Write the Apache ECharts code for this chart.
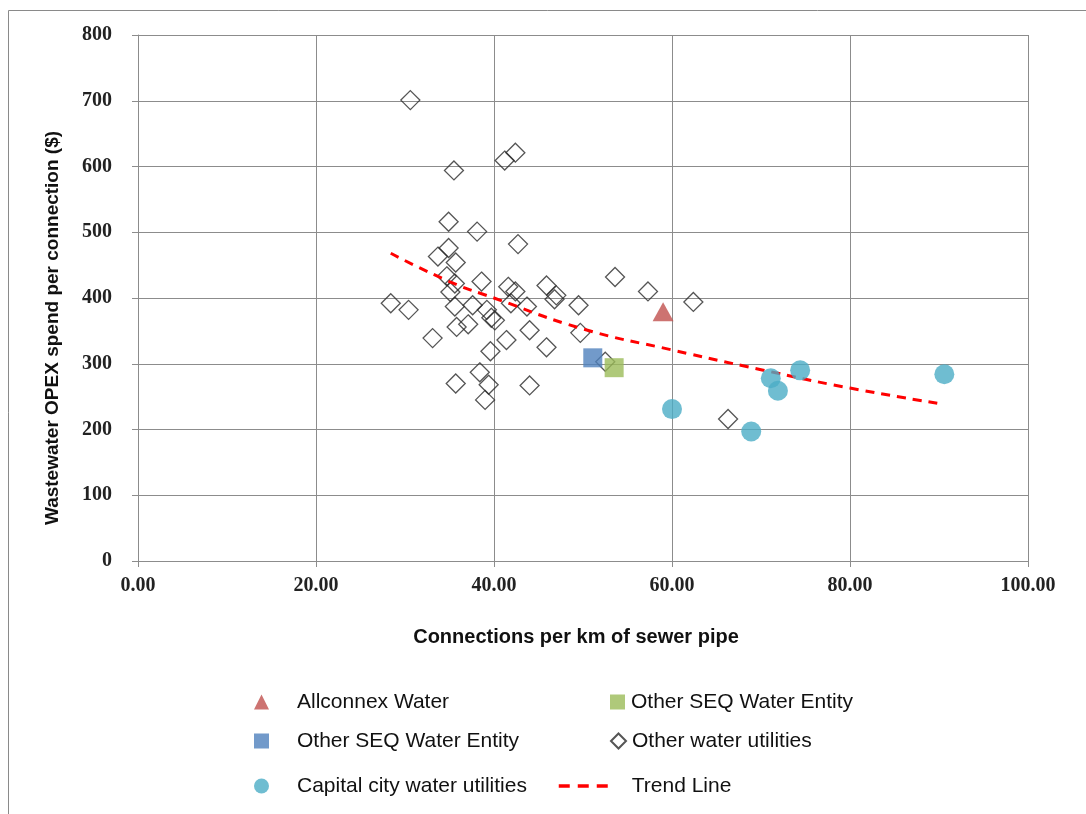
<!DOCTYPE html>
<html>
<head>
<meta charset="utf-8">
<script src="https://cdn.jsdelivr.net/npm/echarts@6/dist/echarts.min.js"></script>
<style>
  html, body { margin: 0; padding: 0; background: #fff; }
  #chart { width: 1086px; height: 814px; }
</style>
</head>
<body>
<div id="chart"></div>
<script>
// values: [connections per km, OPEX per connection]
const allconnex = [[59.0, 379]];
const seqGreen = [[53.5, 294]];
const seqBlue = [[51.1, 309]];
const capitalCities = [
  [60.0, 231], [68.9, 197], [71.1, 278], [71.9, 259], [74.4, 290], [90.6, 284]
];
const otherUtilities = [
  [30.6, 701], [35.5, 594], [41.2, 609], [42.4, 621], [34.9, 516], [38.1, 501],
  [42.7, 482], [34.9, 476], [33.7, 463], [35.7, 454], [34.7, 433], [35.6, 422],
  [35.1, 409], [28.4, 392], [30.4, 382], [33.1, 339], [35.6, 387], [35.8, 356],
  [37.1, 360], [37.6, 389], [38.6, 425], [39.2, 382], [39.7, 370], [40.1, 366],
  [39.6, 319], [41.4, 336], [41.6, 417], [42.4, 410], [41.9, 392], [43.7, 387],
  [44.0, 351], [45.9, 419], [47.0, 404], [46.8, 398], [45.9, 325], [49.5, 389],
  [49.7, 347], [52.5, 303], [53.6, 432], [57.3, 410], [62.4, 394], [66.3, 216],
  [38.4, 287], [39.4, 268], [39.0, 245], [35.7, 270], [44.0, 267]
];
// dashed trend line
const trendLine = [
  [28.4, 468], [35, 425], [40, 400], [50, 353], [60, 321], [70, 291], [80, 263], [90.3, 239]
];
const xTicks = [0, 20, 40, 60, 80, 100];
const yTicks = [0, 100, 200, 300, 400, 500, 600, 700, 800];

const names = {
  allconnex: "Allconnex Water",
  seq: "Other SEQ Water Entity",
  seqBlue: "Other SEQ Water Entity ",
  other: "Other water utilities",
  capital: "Capital city water utilities",
  trend: "Trend Line",
};

const chart = echarts.init(document.getElementById("chart"));
const gridColor = "#8c8c8c";
const tickFont = { fontFamily: "Liberation Serif", fontWeight: "bold", fontSize: 20, color: "#222" };
const legendText = { fontFamily: "Liberation Sans", fontSize: 21, lineHeight: 22, color: "#111" };

// one legend per entry so each row/column sits where the reference puts it
function legendAt(name, left, top, width, padLeft, extra) {
  return Object.assign({
    left: left,
    top: top,
    itemWidth: width,
    itemHeight: 15,
    textStyle: { ...legendText, padding: [0, 0, 0, padLeft] },
    data: [name],
  }, extra || {});
}

chart.setOption({
  animation: false,
  backgroundColor: "#fff",
  graphic: [
    {
      type: "rect",
      shape: { x: 8.5, y: 10.5, width: 1200, height: 900 },
      style: { fill: "none", stroke: "#8a8a8a", lineWidth: 1 },
      silent: true,
    },
  ],
  grid: { left: 138, right: 58, top: 35, bottom: 253 },
  xAxis: {
    type: "value",
    min: xTicks[0],
    max: xTicks[xTicks.length - 1],
    interval: 20,
    name: "Connections per km of sewer pipe",
    nameLocation: "middle",
    nameGap: 66,
    nameTextStyle: {
      fontFamily: "Liberation Sans", fontWeight: "bold", fontSize: 20, color: "#111",
      padding: [0, 14, 0, 0],
    },
    axisLine: { lineStyle: { color: gridColor } },
    axisTick: { show: true, length: 6, lineStyle: { color: gridColor } },
    axisLabel: { ...tickFont, margin: 15, formatter: (v) => v.toFixed(2) },
    splitLine: { lineStyle: { color: gridColor, width: 1 } },
  },
  yAxis: {
    type: "value",
    min: yTicks[0],
    max: yTicks[yTicks.length - 1],
    interval: 100,
    name: "Wastewater OPEX spend per connection ($)",
    nameLocation: "middle",
    nameGap: 76,
    nameTextStyle: {
      fontFamily: "Liberation Sans", fontWeight: "bold", fontSize: 19, color: "#111",
      padding: [0, 60, 0, 0],
    },
    axisLine: { show: true, lineStyle: { color: gridColor } },
    axisTick: { show: true, length: 6, lineStyle: { color: gridColor } },
    axisLabel: { ...tickFont, margin: 26 },
    splitLine: { lineStyle: { color: gridColor, width: 1 } },
  },
  legend: [
    legendAt(names.allconnex, 249, 686, 15, 23),
    legendAt(names.seqBlue, 249, 725, 15, 23),
    legendAt(names.capital, 249, 770, 15, 23),
    legendAt(names.seq, 605, 686, 15, 1),
    legendAt(names.other, 605, 725, 15, 1),
    legendAt(names.trend, 552, 770, 56, 12, {
      itemStyle: { opacity: 0 },
      lineStyle: { width: 3.5, type: [11, 8] },
    }),
  ],
  series: [
    {
      name: names.other,
      type: "scatter",
      symbol: "diamond",
      symbolSize: 19,
      itemStyle: { color: "rgba(255,255,255,0)", borderColor: "#2a2a2a", borderWidth: 1.3 },
      data: otherUtilities,
      z: 2,
    },
    {
      name: names.trend,
      type: "line",
      data: trendLine,
      smooth: true,
      showSymbol: false,
      symbol: "none",
      lineStyle: { color: "#ff0000", width: 3, type: [9, 7] },
      itemStyle: { color: "#ff0000" },
      z: 3,
    },
    {
      name: names.allconnex,
      type: "scatter",
      symbol: "triangle",
      symbolSize: [21, 19],
      itemStyle: { color: "#c0504d" },
      data: allconnex,
      z: 4,
    },
    {
      name: names.seqBlue,
      type: "scatter",
      symbol: "rect",
      symbolSize: 19,
      itemStyle: { color: "#4f81bd" },
      data: seqBlue,
      z: 4,
    },
    {
      name: names.seq,
      type: "scatter",
      symbol: "rect",
      symbolSize: 19,
      itemStyle: { color: "#9bbb59" },
      data: seqGreen,
      z: 4,
    },
    {
      name: names.capital,
      type: "scatter",
      symbol: "circle",
      symbolSize: 20,
      itemStyle: { color: "#4bacc6" },
      data: capitalCities,
      z: 4,
    },
  ],
});
</script>
</body>
</html>
